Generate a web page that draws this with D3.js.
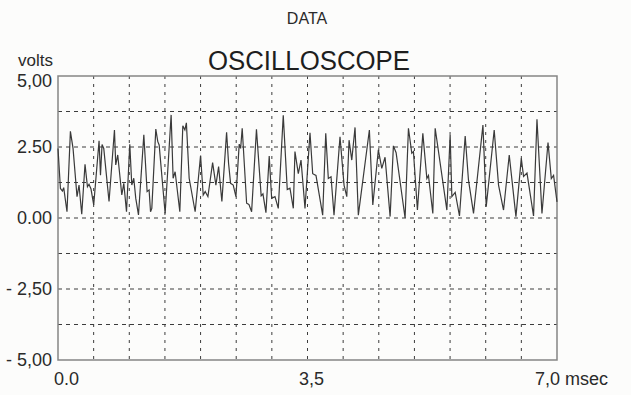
<!DOCTYPE html>
<html>
<head>
<meta charset="utf-8">
<script src="https://cdn.jsdelivr.net/npm/d3@7"></script>
<style>
  html, body { margin: 0; padding: 0; background: #fcfcfb; }
  svg { display: block; font-family: "Liberation Sans", Arial, sans-serif; }
</style>
</head>
<body>
<div id="chart"></div>
<script>
// signal vertices: time (msec) and voltage (volts)
const times = [
  0.000, 0.034, 0.062, 0.080, 0.126, 0.174, 0.211, 0.267, 0.295, 0.333,
  0.379, 0.413, 0.435, 0.463, 0.501, 0.576, 0.596, 0.618, 0.642, 0.716,
  0.792, 0.810, 0.838, 0.895, 0.923, 0.961, 1.007, 1.035, 1.063, 1.091,
  1.129, 1.204, 1.250, 1.278, 1.298, 1.316, 1.372, 1.400, 1.419, 1.503,
  1.587, 1.615, 1.643, 1.709, 1.751, 1.780, 1.801, 1.840, 1.924, 2.000,
  2.037, 2.065, 2.103, 2.169, 2.215, 2.253, 2.299, 2.365, 2.393, 2.421,
  2.458, 2.496, 2.542, 2.562, 2.584, 2.646, 2.678, 2.716, 2.784, 2.850,
  2.875, 2.917, 2.963, 2.997, 3.044, 3.090, 3.160, 3.216, 3.254, 3.301,
  3.324, 3.371, 3.409, 3.465, 3.535, 3.573, 3.619, 3.713, 3.756, 3.792,
  3.830, 3.872, 3.956, 4.013, 4.051, 4.083, 4.121, 4.167, 4.213, 4.368,
  4.416, 4.494, 4.542, 4.588, 4.659, 4.705, 4.743, 4.869, 4.916, 4.963,
  4.986, 5.042, 5.118, 5.174, 5.197, 5.258, 5.291, 5.455, 5.501, 5.525,
  5.572, 5.632, 5.712, 5.758, 5.829, 5.961, 6.007, 6.119, 6.180, 6.250,
  6.330, 6.424, 6.499, 6.531, 6.579, 6.671, 6.719, 6.789, 6.874, 6.920,
  6.952, 7.000
];
const volts = [
  2.45, 1.04, 0.95, 1.07, 0.22, 3.05, 2.45, 0.75, 1.16, 0.13,
  1.89, 1.10, 1.19, 1.02, 0.46, 2.72, 1.51, 2.59, 2.45, 0.58,
  3.10, 1.87, 2.22, 0.81, 1.22, 0.22, 2.60, 1.16, 1.40, 0.69,
  0.11, 2.93, 0.93, 0.99, 0.22, 0.34, 3.13, 2.69, 2.57, 0.16,
  3.63, 1.40, 1.63, 0.22, 3.25, 3.10, 3.35, 1.40, 0.22, 2.20,
  0.81, 0.93, 0.75, 1.95, 1.16, 1.81, 0.58, 3.02, 1.92, 1.22,
  1.16, 0.75, 2.60, 2.45, 3.16, 0.52, 0.48, 0.22, 3.12, 0.78,
  0.85, 0.19, 2.18, 0.69, 0.75, 0.34, 3.62, 1.00, 1.05, 0.34,
  2.34, 1.56, 2.04, 0.34, 3.00, 1.56, 1.50, 0.10, 2.98, 1.39,
  1.45, 0.10, 2.86, 1.15, 0.75, 2.74, 2.04, 3.19, 0.10, 3.10,
  0.46, 2.40, 1.75, 2.14, 0.05, 2.54, 2.30, 0.00, 3.16, 2.28,
  2.34, 0.28, 2.98, 1.39, 1.50, 0.16, 3.16, 0.28, 2.92, 0.75,
  0.90, 0.07, 2.89, 1.34, 0.16, 3.27, 0.40, 3.10, 1.16, 0.28,
  2.22, 0.05, 2.10, 1.46, 1.58, 0.07, 3.48, 0.16, 2.66, 1.39,
  1.50, 0.57
];

const yTickValues = [5, 2.5, 0, -2.5, -5];
const yTickLabels = ["5,00", "2.50", "0.00", "- 2,50", "- 5,00"];
const xTickValues = [0, 3.5, 7];
const xTickLabels = ["0.0", "3,5", "7,0 msec"];
const xGridValues = d3.range(0, 7.01, 0.5);
const yGridValues = d3.range(-5, 5.01, 1.25);

const width = 631, height = 395;
const margin = {top: 76, right: 74, bottom: 35, left: 58};

const svg = d3.select("#chart").append("svg")
  .attr("width", width)
  .attr("height", height);

const x = d3.scaleLinear().domain([0, 7]).range([margin.left, width - margin.right]);
const y = d3.scaleLinear().domain([-5, 5]).range([height - margin.bottom, margin.top]);

// grid
svg.append("g")
  .selectAll("line")
  .data(yGridValues.slice(1, -1))
  .join("line")
    .attr("x1", margin.left).attr("x2", width - margin.right)
    .attr("y1", d => y(d)).attr("y2", d => y(d))
    .attr("stroke", "#3c3c3c")
    .attr("stroke-width", 1)
    .attr("stroke-dasharray", "4,4");

svg.append("g")
  .selectAll("line")
  .data(xGridValues.slice(1, -1))
  .join("line")
    .attr("x1", d => x(d)).attr("x2", d => x(d))
    .attr("y1", margin.top).attr("y2", height - margin.bottom)
    .attr("stroke", "#3c3c3c")
    .attr("stroke-width", 1)
    .attr("stroke-dasharray", "3,5");

// frame
svg.append("rect")
  .attr("x", margin.left).attr("y", margin.top)
  .attr("width", width - margin.left - margin.right)
  .attr("height", height - margin.top - margin.bottom)
  .attr("fill", "none")
  .attr("stroke", "#858585")
  .attr("stroke-width", 1.5);

// signal
const line = d3.line()
  .x((d, i) => x(times[i]))
  .y(d => y(d));

svg.append("path")
  .datum(volts)
  .attr("d", line)
  .attr("fill", "none")
  .attr("stroke", "#3a3a3a")
  .attr("stroke-width", 1.2)
  .attr("stroke-linejoin", "miter");

// y labels
svg.append("g")
  .selectAll("text")
  .data(yTickValues)
  .join("text")
    .attr("x", 52)
    .attr("y", (d, i) => y(d) + (i === 0 ? 5 : 0))
    .attr("dy", "0.36em")
    .attr("text-anchor", "end")
    .attr("font-size", 18)
    .attr("fill", "#2a2a2a")
    .text((d, i) => yTickLabels[i]);

// x labels
const xAnchor = ["start", "middle", "start"];
const xShift = [-4, 4, -22];
svg.append("g")
  .selectAll("text")
  .data(xTickValues)
  .join("text")
    .attr("x", (d, i) => x(d) + xShift[i])
    .attr("y", 385)
    .attr("text-anchor", (d, i) => xAnchor[i])
    .attr("font-size", 18)
    .attr("fill", "#2a2a2a")
    .text((d, i) => xTickLabels[i]);

// titles
svg.append("text")
  .attr("x", 307).attr("y", 24)
  .attr("text-anchor", "middle")
  .attr("font-size", 16)
  .attr("fill", "#2a2a2a")
  .text("DATA");

svg.append("text")
  .attr("x", 309).attr("y", 70)
  .attr("text-anchor", "middle")
  .attr("font-size", 27)
  .attr("textLength", 202)
  .attr("lengthAdjust", "spacingAndGlyphs")
  .attr("fill", "#1e1e1e")
  .text("OSCILLOSCOPE");

svg.append("text")
  .attr("x", 18).attr("y", 66)
  .attr("font-size", 17)
  .attr("fill", "#2a2a2a")
  .text("volts");
</script>
</body>
</html>
